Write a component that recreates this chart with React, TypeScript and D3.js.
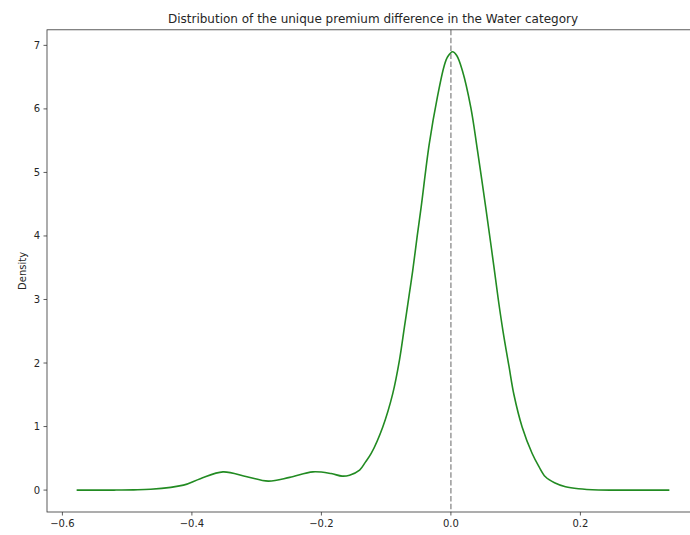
import React from "react";
import * as d3 from "d3";

const titleText = "Distribution of the unique premium difference in the Water category";
const yLabel = "Density";

const xValues = [
  -0.578, -0.52, -0.49, -0.464, -0.413, -0.387, -0.352, -0.315, -0.282, -0.249,
  -0.213, -0.185, -0.168, -0.1565, -0.141, -0.132, -0.1231, -0.1052, -0.0898, -0.0795,
  -0.0718, -0.0642, -0.059, -0.052, -0.046, -0.0334, -0.0206, -0.0103, -0.005,
  0.0025, 0.009, 0.0178, 0.0308, 0.041, 0.0538, 0.064, 0.0732, 0.0805, 0.0897,
  0.0974, 0.11, 0.1255, 0.136, 0.146, 0.16, 0.177, 0.197, 0.228, 0.26, 0.3374,
];
const densityValues = [
  0, 0, 0.003, 0.012, 0.078, 0.18, 0.287, 0.21, 0.141, 0.2,
  0.287, 0.26, 0.22, 0.235, 0.314, 0.44, 0.576, 0.994, 1.518, 2.041,
  2.564, 3.088, 3.45, 4.0, 4.45, 5.45, 6.2, 6.68, 6.82,
  6.9, 6.84, 6.6, 6.02, 5.35, 4.45, 3.7, 3.0, 2.5, 1.95,
  1.5, 0.994, 0.576, 0.37, 0.209, 0.115, 0.052, 0.02, 0.002, 0, 0,
];
const xTicks = [-0.6, -0.4, -0.2, 0.0, 0.2];
const yTicks = [0, 1, 2, 3, 4, 5, 6, 7];
const vlineX = 0;

const W = 690;
const H = 535;
const left = 47;
const right = 699;
const top = 29.8;
const bottom = 512;

export default function App() {
  const xMin = d3.min(xValues)!;
  const xMax = d3.max(xValues)!;
  const yMax = d3.max(densityValues)!;
  const xPad = (xMax - xMin) * 0.05;
  const yPad = yMax * 0.05;
  const x = d3.scaleLinear().domain([xMin - xPad, xMax + xPad]).range([left, right]);
  const y = d3.scaleLinear().domain([-yPad, yMax + yPad]).range([bottom, top]);

  const pts: [number, number][] = xValues.map((v, i) => [v, densityValues[i]]);
  const line = d3
    .line<[number, number]>()
    .x((d) => x(d[0]))
    .y((d) => y(d[1]))
    .curve(d3.curveCatmullRom.alpha(0.5));

  const font = "DejaVu Sans, sans-serif";
  const textColor = "#262626";

  return (
    <svg
      width={W}
      height={H}
      style={{ position: "absolute", left: 0, top: 0, background: "#fff", overflow: "hidden" }}
      fontFamily={font}
    >
      <rect x={0} y={0} width={W} height={H} fill="#fff" />
      <line
        x1={x(vlineX)}
        x2={x(vlineX)}
        y1={top}
        y2={bottom}
        stroke="#808080"
        strokeOpacity={0.8}
        strokeWidth={1.5}
        strokeDasharray="5.5,2.4"
      />
      <path d={line(pts)!} fill="none" stroke="#228b22" strokeWidth={1.6} />
      <rect
        x={left}
        y={top}
        width={right - left}
        height={bottom - top}
        fill="none"
        stroke="#333"
        strokeWidth={0.8}
      />
      {xTicks.map((t) => (
        <g key={"x" + t}>
          <line x1={x(t)} x2={x(t)} y1={bottom} y2={bottom + 3.5} stroke="#333" strokeWidth={0.8} />
          <text
            x={x(t)}
            y={bottom + 7}
            dy="0.76em"
            textAnchor="middle"
            fontSize={10}
            fill={textColor}
          >
            {t === 0 ? "0.0" : d3.format(".1f")(t).replace("-", "\u2212")}
          </text>
        </g>
      ))}
      {yTicks.map((t) => (
        <g key={"y" + t}>
          <line x1={left - 3.5} x2={left} y1={y(t)} y2={y(t)} stroke="#333" strokeWidth={0.8} />
          <text
            x={left - 7}
            y={y(t)}
            dy="0.35em"
            textAnchor="end"
            fontSize={10}
            fill={textColor}
          >
            {t}
          </text>
        </g>
      ))}
      <text
        transform={`translate(22,${(top + bottom) / 2}) rotate(-90)`}
        textAnchor="middle"
        dy="0.35em"
        fontSize={10}
        fill={textColor}
      >
        {yLabel}
      </text>
      <text x={(left + right) / 2} y={23} textAnchor="middle" fontSize={12} fill={textColor}>
        {titleText}
      </text>
    </svg>
  );
}
